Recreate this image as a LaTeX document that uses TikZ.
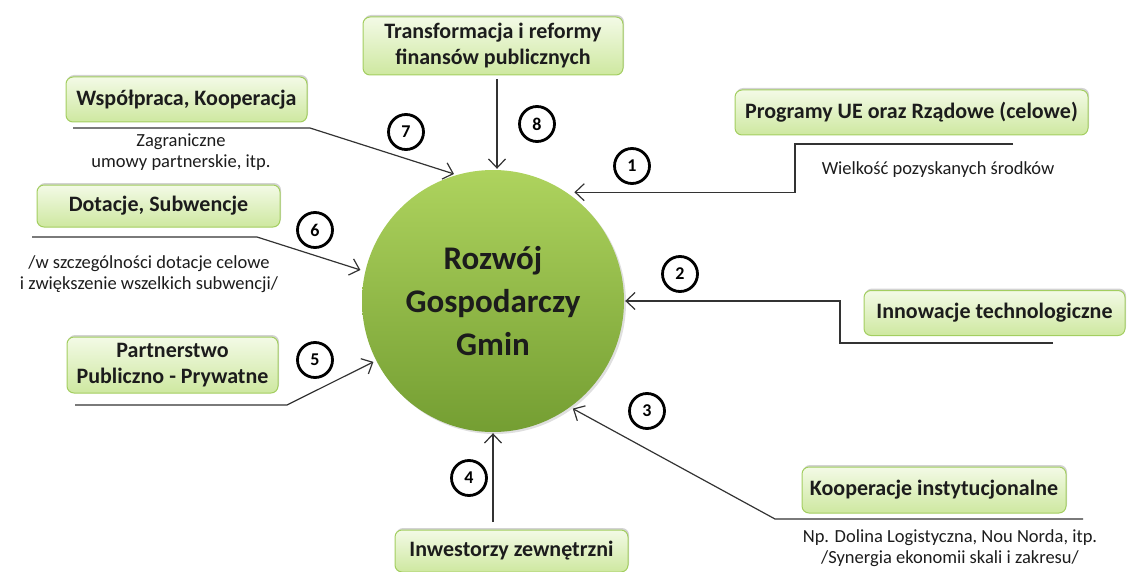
\documentclass[tikz,border=0pt]{standalone}
\usepackage{fontspec}
\setmainfont{Carlito}
\usetikzlibrary{arrows.meta,shadows}

\definecolor{boxline}{RGB}{163,206,96}
\definecolor{boxtop}{RGB}{243,250,230}
\definecolor{boxbot}{RGB}{206,232,160}
\definecolor{gmtop}{RGB}{174,211,94}
\definecolor{gmbot}{RGB}{116,158,50}
\definecolor{ink}{RGB}{28,28,28}

\tikzset{
  box/.style={draw=boxline, line width=1pt, rounded corners=7pt,
    top color=boxtop, bottom color=boxbot, text=ink, align=center,
    font=\fontsize{22}{26}\selectfont\bfseries, inner sep=0pt,
    drop shadow={shadow xshift=1pt, shadow yshift=2pt, opacity=.35}},
  num/.style={circle, draw=black, line width=2.8pt, fill=white,
    minimum size=35pt, inner sep=0pt, font=\fontsize{18}{18}\selectfont\bfseries},
  note/.style={text=ink, align=center, font=\fontsize{18.5}{21}\selectfont},
  lead/.style={draw=black!80, line width=1.2pt},
  conn/.style={lead, shorten >=3pt,
    -{Straight Barb[length=9pt,width=17pt,line width=1.2pt]}}
}

\begin{document}
\begin{tikzpicture}[x=1pt,y=-1pt]
  \useasboundingbox (0,0) rectangle (1131,572);

  \node[circle, minimum size=262pt, inner sep=0pt, top color=gmtop, bottom color=gmbot,
    drop shadow={shadow xshift=2pt, shadow yshift=-2pt, opacity=.25},
    text=ink, align=center, font=\fontsize{33}{43}\selectfont\bfseries]
    (gm) at (493,301) {Rozwój\\Gospodarczy\\Gmin};

  \begin{scope}[every node/.style={box}]
    \node[minimum width=353pt, minimum height=45pt] (b1) at (911.5,112.5) {Programy UE oraz Rządowe (celowe)};
    \node[minimum width=261pt, minimum height=45pt] (b2) at (994.5,313) {Innowacje technologiczne};
    \node[minimum width=264pt, minimum height=46pt] (b3) at (934,490) {Kooperacje instytucjonalne};
    \node[minimum width=233pt, minimum height=42pt] (b4) at (511.5,551) {Inwestorzy zewnętrzni};
    \node[minimum width=211pt, minimum height=56pt] (b5) at (172.5,365) {Partnerstwo\\Publiczno - Prywatne};
    \node[minimum width=243pt, minimum height=42pt] (b6) at (158.5,206) {Dotacje, Subwencje};
    \node[minimum width=241pt, minimum height=45pt] (b7) at (186.5,99.5) {Współpraca, Kooperacja};
    \node[minimum width=260pt, minimum height=58pt] (b8) at (493,46) {Transformacja i reformy\\finansów publicznych};
  \end{scope}

  \begin{scope}[every node/.style={note}]
    \node (t1) at (938,170) {Wielkość pozyskanych środków};
    \node (t3) at (950,548) {Np. Dolina Logistyczna, Nou Norda, itp.\\/Synergia ekonomii skali i zakresu/};
    \node (t6) at (149,274) {/w szczególności dotacje celowe\\i zwiększenie wszelkich subwencji/};
    \node (t7) at (181,152) {Zagraniczne\\umowy partnerskie, itp.};
  \end{scope}

  \coordinate (l1a) at (1013,144); \coordinate (l1b) at (795,144);
  \coordinate (l2a) at (1053,343); \coordinate (l2b) at (840,343);
  \coordinate (l3a) at (1083,519); \coordinate (l3b) at (775,519);
  \coordinate (l4a) at (493,522);
  \coordinate (l5a) at (75,405);   \coordinate (l5b) at (287,405);
  \coordinate (l6a) at (32,237);   \coordinate (l6b) at (257,237);
  \coordinate (l7a) at (73,128);   \coordinate (l7b) at (310,128);
  \coordinate (l8a) at (497,79);

  \draw[conn, shorten >=8pt] (l1a) -- (l1b) |- (gm.56);
  \draw[conn, shorten >=1pt] (l2a) -- (l2b) |- (gm.east);
  \draw[conn] (l3a) -- (l3b) -- (gm.-54);
  \draw[conn, shorten >=1pt] (l4a) -- (gm.south);
  \draw[conn] (l5a) -- (l5b) -- (gm.207);
  \draw[conn, shorten >=5pt] (l6a) -- (l6b) -- (gm.167);
  \draw[conn] (l7a) -- (l7b) -- (gm.106);
  \draw[conn, shorten >=1pt] (l8a) -- (l8a |- gm.north);

  \begin{scope}[every node/.style={num}]
    \node (n1) at (632,166) {1};
    \node (n2) at (680,274) {2};
    \node (n3) at (647,411) {3};
    \node (n4) at (469,478) {4};
    \node (n5) at (315,360) {5};
    \node (n6) at (315,230) {6};
    \node (n7) at (406,132) {7};
    \node (n8) at (537,124) {8};
  \end{scope}

\end{tikzpicture}
\end{document}
